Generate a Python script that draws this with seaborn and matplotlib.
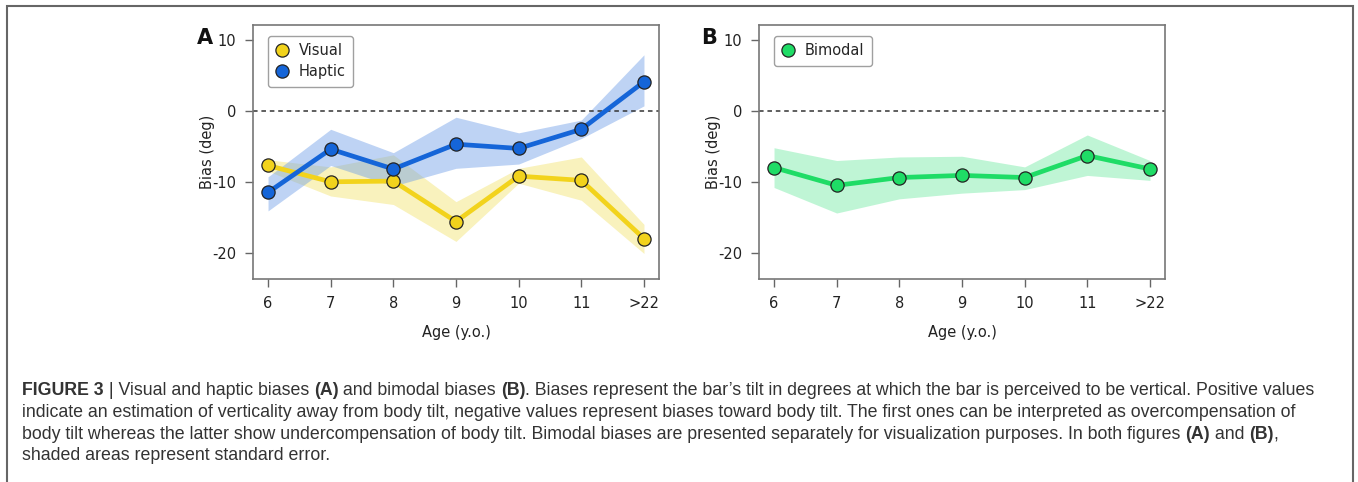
import matplotlib
matplotlib.use("Agg")
import matplotlib.pyplot as plt
import seaborn as sns
import pandas as pd
from matplotlib.patches import Rectangle

# data
ages = ["6", "7", "8", "9", "10", "11", ">22"]

visual = [-7.7, -10.0, -9.9, -15.6, -9.2, -9.8, -18.0]
visual_hi = [-6.9, -7.9, -6.2, -12.8, -8.1, -6.5, -16.0]
visual_lo = [-8.5, -12.0, -13.2, -18.4, -10.2, -12.6, -20.1]

haptic = [-11.5, -5.4, -8.2, -4.7, -5.3, -2.6, 4.1]
haptic_hi = [-9.3, -2.6, -5.9, -0.9, -3.1, -1.3, 7.9]
haptic_lo = [-14.1, -7.7, -10.6, -8.1, -7.5, -3.9, 0.7]

bimodal = [-8.0, -10.5, -9.4, -9.1, -9.4, -6.3, -8.2]
bimodal_hi = [-5.2, -7.0, -6.5, -6.4, -7.9, -3.4, -7.0]
bimodal_lo = [-10.8, -14.4, -12.4, -11.6, -11.1, -9.1, -9.8]

YELLOW = "#f2d31c"
BLUE = "#1565d8"
GREEN = "#1fdc66"

sns.set_style("white")
plt.rcParams["font.family"] = ["DejaVu Sans"]
plt.rcParams["axes.unicode_minus"] = False

W, H = 1358, 482
fig = plt.figure(figsize=(W / 100, H / 100), dpi=100)

pos = list(range(len(ages)))


def panel(left, series, letter, letter_x):
    ax = fig.add_axes([left / W, 1 - 279 / H, 406 / W, 254 / H])
    for name, vals, lo, hi, col, band, alpha in series:
        ax.fill_between(pos, lo, hi, color=band, alpha=alpha, lw=0, zorder=1)
        df = pd.DataFrame({"x": pos, "y": vals})
        sns.lineplot(data=df, x="x", y="y", ax=ax, color=col, lw=3.4,
                     marker="o", markersize=9.5, markerfacecolor=col,
                     markeredgecolor="#222222", markeredgewidth=0.9,
                     label=name, zorder=3)
    ax.axhline(0, color="#333333", ls=(0, (3, 2.5)), lw=1.1, zorder=2)
    ax.set_xlim(-0.24, 6.24)
    ax.set_ylim(-23.7, 12.1)
    ax.set_yticks([10, 0, -10, -20])
    ax.set_xticks(pos)
    ax.set_xticklabels(ages)
    ax.set_xlabel("Age (y.o.)", fontsize=10.5, color="#222222", labelpad=10)
    ax.set_ylabel("Bias (deg)", fontsize=10.5, color="#222222")
    ax.yaxis.set_label_coords(-38 / 406, 0.5)
    ax.tick_params(axis="both", direction="out", length=6, width=1,
                   color="#666666", labelsize=10.5, labelcolor="#222222",
                   bottom=True, left=True, pad=6)
    for sp in ax.spines.values():
        sp.set_color("#777777")
        sp.set_linewidth(1.2)
    leg = ax.legend(loc="upper left", bbox_to_anchor=(0.02, 0.985),
                    frameon=True, fancybox=True, fontsize=10.5,
                    handlelength=0.8, handletextpad=0.8, borderpad=0.5,
                    labelspacing=0.4)
    for h in leg.legend_handles:
        h.set_linestyle("none")
    leg.get_frame().set_edgecolor("#888888")
    leg.get_frame().set_linewidth(1.0)
    fig.text(letter_x / W, 1 - 38 / H, letter, fontsize=15, fontweight="bold",
             ha="center", va="center", color="#111111")
    return ax


panel(253, [("Visual", visual, visual_lo, visual_hi, YELLOW, "#f0df5a", 0.4),
            ("Haptic", haptic, haptic_lo, haptic_hi, BLUE, "#6f9ee8", 0.45)],
      "A", 205)
panel(759, [("Bimodal", bimodal, bimodal_lo, bimodal_hi, GREEN, "#5fe897", 0.4)],
      "B", 709)

# frame round the whole figure
fig.patches.append(Rectangle((7 / W, -0.1), (1353 - 7) / W, 1.1 - 6 / H,
                             transform=fig.transFigure, fill=False,
                             edgecolor="#666666", lw=1.5))

# caption with bold pieces
caption = [
    [("FIGURE 3", "bold"), (" | Visual and haptic biases ", "normal"), ("(A)", "bold"),
     (" and bimodal biases ", "normal"), ("(B)", "bold"),
     (". Biases represent the bar\u2019s tilt in degrees at which the bar is perceived to be vertical. Positive values", "normal")],
    [("indicate an estimation of verticality away from body tilt, negative values represent biases toward body tilt. The first ones can be interpreted as overcompensation of", "normal")],
    [("body tilt whereas the latter show undercompensation of body tilt. Bimodal biases are presented separately for visualization purposes. In both figures ", "normal"),
     ("(A)", "bold"), (" and ", "normal"), ("(B)", "bold"), (",", "normal")],
    [("shaded areas represent standard error.", "normal")],
]
line_y = [395, 417, 439, 460]

fig.canvas.draw()
renderer = fig.canvas.get_renderer()
for parts, yy in zip(caption, line_y):
    x = 22
    for txt, weight in parts:
        t = fig.text(x / W, 1 - yy / H, txt, fontsize=12.75, fontweight=weight,
                     family="Liberation Sans", color="#333333", va="baseline", ha="left")
        bb = t.get_window_extent(renderer=renderer)
        x += bb.width

fig.savefig("out.png", dpi=100)
